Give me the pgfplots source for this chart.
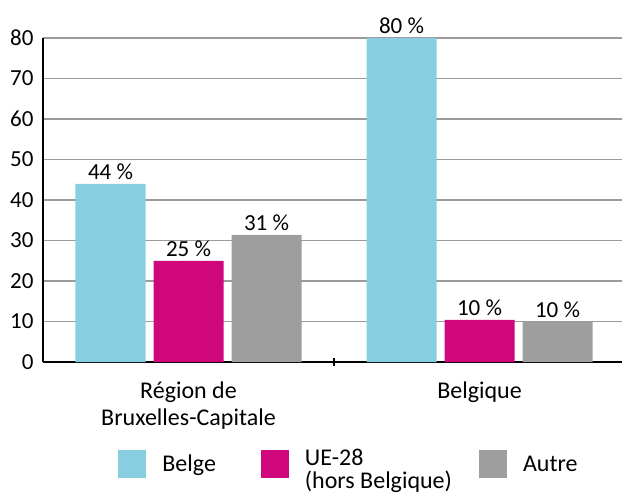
\documentclass[border=0pt]{standalone}
\usepackage{pgfplots}
\pgfplotsset{compat=1.18}
\usepackage{fontspec}
\setmainfont{Carlito}
\definecolor{belge}{RGB}{135,206,224}
\definecolor{ue}{RGB}{208,7,123}
\definecolor{autre}{RGB}{158,158,158}
\definecolor{gridc}{RGB}{155,155,155}
\newcommand{\bigf}{\fontsize{24bp}{27bp}\selectfont}
\newcommand{\midf}{\fontsize{23bp}{26bp}\selectfont}
\begin{document}
\begin{tikzpicture}
\path[use as bounding box] (-43bp,-135bp) rectangle (579bp,362bp);
\begin{axis}[
  at={(0,0)}, anchor=south west,
  scale only axis, width=582bp, height=324bp,
  xmin=-0.5, xmax=1.5, ymin=0, ymax=80,
  ybar, bar width=70bp,
  ytick={0,10,...,80},
  ymajorgrids, grid style={gridc, line width=1.3bp},
  axis x line=bottom, axis y line=left,
  axis line style={-, line width=2bp, black},
  /pgf/number format/assume math mode=true,
  yticklabel style={font=\midf, xshift=-6bp},
  xtick={0,1},
  xticklabels={{Région de\\Bruxelles-Capitale},{Belgique}},
  xticklabel style={align=center, font=\bigf, yshift=-16bp},
  major tick length=0pt,
  extra x ticks={0.5}, extra x tick labels={},
  extra x tick style={major tick length=8bp, tick style={black, line width=2bp}, grid=none},
  nodes near coords={\pgfmathprintnumber[fixed,precision=0]{\pgfplotspointmeta}~\%},
  every node near coord/.append style={font=\midf, black, inner sep=4bp},
  legend columns=3,
  legend cell align=left,
  legend style={at={(0.524,-0.315)}, anchor=center, draw=none, font=\bigf,
    nodes={inner sep=0pt},
    /tikz/every odd column/.append style={column sep=16bp},
    /tikz/column 2/.append style={column sep=45bp},
    /tikz/column 4/.append style={column sep=27bp}},
  mylegend/.style={legend image code/.code={\fill[##1, draw=none] (0bp,-14bp) rectangle (28bp,14bp);}},
]
\addplot[fill=belge, draw=none, bar shift=-78bp, mylegend] coordinates {(0,44) (1,80)};
\addplot[fill=ue, draw=none, bar shift=0bp, mylegend] coordinates {(0,25) (1,10.4)};
\addplot[fill=autre, draw=none, bar shift=78bp, mylegend] coordinates {(0,31.4) (1,10)};
\legend{Belge,{\def\arraystretch{0.74}\begin{tabular}{@{}l@{}}UE-28\\(hors Belgique)\end{tabular}},Autre}
\end{axis}
\end{tikzpicture}
\end{document}
